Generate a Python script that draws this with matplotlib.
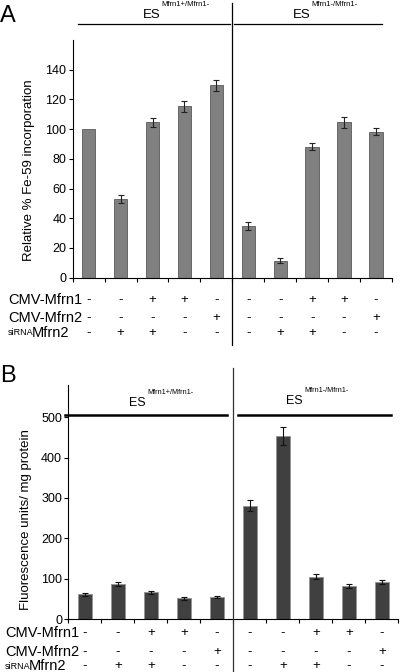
import numpy as np
import matplotlib
matplotlib.use("Agg")
import matplotlib.pyplot as plt
from matplotlib.transforms import blended_transform_factory
from matplotlib.lines import Line2D

plt.rcParams["font.family"] = ["Liberation Sans", "DejaVu Sans"]

# panel A: Fe-59 incorporation
fe59_values = [100, 53, 104.5, 115.5, 129.5, 34.8, 11.3, 88.3, 104.7, 98.4]
fe59_errors = [0, 2.4, 3.0, 3.7, 3.8, 2.5, 1.7, 2.5, 3.7, 2.4]

# panel B: fluorescence
fluor_values = [61, 87, 66, 51, 55, 281, 454, 105, 82, 91]
fluor_errors = [4, 5, 4, 3, 3, 14, 22, 6, 5, 5]

row_labels = ["CMV-Mfrn1", "CMV-Mfrn2", "Mfrn2"]
cmv_mfrn1 = ["-", "-", "+", "+", "-", "-", "-", "+", "+", "-"]
cmv_mfrn2 = ["-", "-", "-", "-", "+", "-", "-", "-", "-", "+"]
sirna_mfrn2 = ["-", "+", "+", "-", "-", "-", "+", "+", "-", "-"]
rows = [cmv_mfrn1, cmv_mfrn2, sirna_mfrn2]

groups = ["Mfrn1+/Mfrn1-", "Mfrn1-/Mfrn1-"]

W, H = 400, 672
fig = plt.figure(figsize=(4.0, 6.72), dpi=100)


def fx(px):
    return px / W


def fy(py):
    return 1 - py / H


def setup_axes(ax, ymax, yticks):
    ax.set_xlim(-0.5, 9.5)
    ax.set_ylim(0, ymax)
    ax.set_yticks(yticks)
    ax.set_xticks(np.arange(-0.5, 10, 1))
    ax.set_xticklabels([])
    for s in ["top", "right"]:
        ax.spines[s].set_visible(False)
    ax.spines["left"].set_bounds(0, ymax)
    ax.tick_params(axis="both", direction="out", length=3, width=0.8, labelsize=9, pad=1.5)


def sign_rows(ax, ys, label_x):
    trans = blended_transform_factory(ax.transData, fig.transFigure)
    for row, yy, lab in zip(rows, ys, row_labels):
        for i, s in enumerate(row):
            ax.text(i, fy(yy), s, transform=trans, ha="center", va="center",
                    fontsize=9.5, clip_on=False)
        if lab == "Mfrn2":
            fig.text(fx(label_x), fy(yy), "siRNA", fontsize=6.5, ha="left", va="center")
            fig.text(fx(label_x + 24), fy(yy), "Mfrn2", fontsize=10.5, ha="left", va="center")
        else:
            fig.text(fx(label_x), fy(yy), lab, fontsize=10.5, ha="left", va="center")


def es_label(x_es, y_es, y_sup, sup, size=9.5, sup_size=5.5):
    fig.text(fx(x_es), fy(y_es), "ES", fontsize=size, ha="left", va="center")
    fig.text(fx(x_es + 18), fy(y_sup), sup, fontsize=sup_size, ha="left", va="center")


x = np.arange(10)

# ---- panel A ----
axA = fig.add_axes([fx(72.7), fy(277.7), fx(392 - 72.7), (277.7 - 40) / H])
axA.bar(x, fe59_values, width=0.42, color="#808080", edgecolor="#5a5a5a", linewidth=0.6)
err_x = [i for i in x if fe59_errors[i] > 0]
axA.errorbar(err_x, [fe59_values[i] for i in err_x], yerr=[fe59_errors[i] for i in err_x],
             fmt="none", ecolor="#222222", elinewidth=0.8, capsize=2.5, capthick=0.8)
setup_axes(axA, 160, np.arange(0, 141, 20))
axA.set_ylabel("Relative % Fe-59 incorporation", fontsize=9.5)
axA.yaxis.set_label_coords(-0.118, 0.453)

fig.add_artist(Line2D([fx(232.2), fx(232.2)], [fy(3), fy(345)], color="black", lw=0.9))
fig.add_artist(Line2D([fx(78), fx(230)], [fy(24.3), fy(24.3)], color="black", lw=0.9))
fig.add_artist(Line2D([fx(233.5), fx(381.7)], [fy(24.3), fy(24.3)], color="black", lw=0.9))
es_label(143, 15.5, 4.5, groups[0])
es_label(293, 15.5, 4.5, groups[1])
fig.text(fx(0), fy(16), "A", fontsize=17, ha="left", va="center")

sign_rows(axA, [300, 317.7, 332.7], 8)

# ---- panel B ----
axB = fig.add_axes([fx(68.3), fy(619), fx(398.3 - 68.3), (619 - 385) / H])
axB.bar(x, fluor_values, width=0.42, color="#404040", edgecolor="#959595", linewidth=0.7)
axB.errorbar(x, fluor_values, yerr=fluor_errors, fmt="none", ecolor="#111111",
             elinewidth=0.8, capsize=2.5, capthick=0.8)
setup_axes(axB, 580, np.arange(0, 501, 100))
axB.set_ylabel("Fluorescence units/ mg protein", fontsize=9.5)
axB.yaxis.set_label_coords(-0.11, 0.423)

fig.add_artist(Line2D([fx(233.3), fx(233.3)], [fy(368), fy(672)], color="#333333", lw=0.9))
fig.add_artist(Line2D([fx(65), fx(227)], [fy(415), fy(415)], color="black", lw=1.8))
fig.add_artist(Line2D([fx(238), fx(390.7)], [fy(415), fy(415)], color="black", lw=1.8))
es_label(129, 403.5, 392, groups[0], size=9, sup_size=5.2)
es_label(286, 401, 391, groups[1], size=9, sup_size=5.2)
fig.text(fx(0), fy(376), "B", fontsize=17, ha="left", va="center")

sign_rows(axB, [632.7, 651.7, 666.5], 5)

fig.savefig("out.png", dpi=100)
plt.close(fig)
